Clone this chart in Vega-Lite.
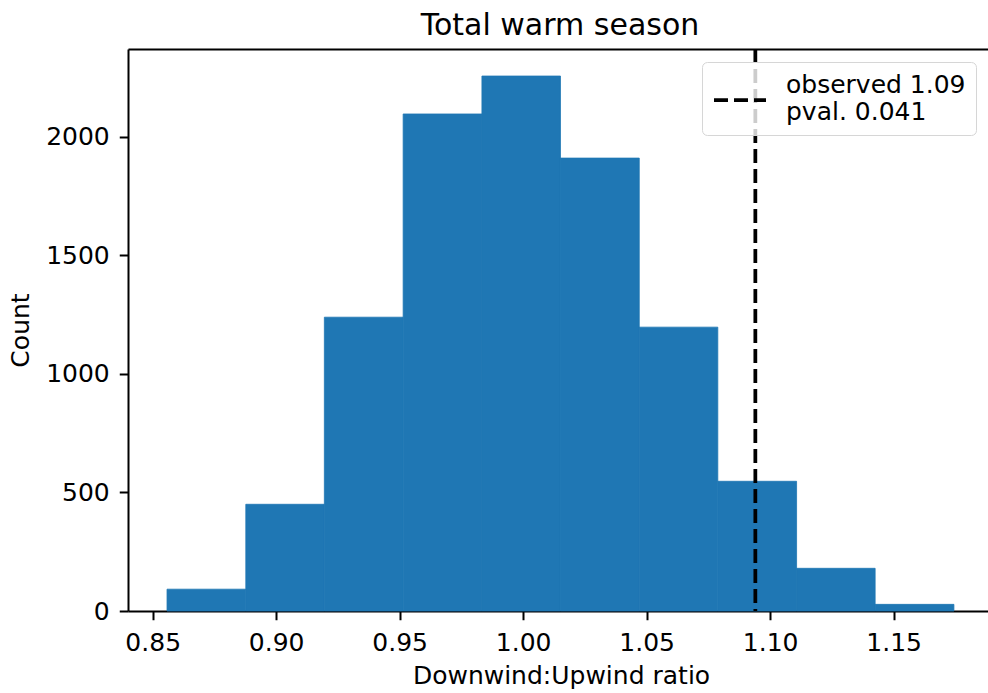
{
  "$schema": "https://vega.github.io/schema/vega-lite/v6.json",
  "autosize": "none",
  "width": 860,
  "height": 562,
  "padding": {"left": 128, "top": 49, "right": 0, "bottom": 82},
  "background": "white",
  "title": {"text": "Total warm season", "fontSize": 30, "font": "DejaVu Sans", "fontWeight": "normal", "color": "black", "baseline": "alphabetic", "offset": -18, "dx": 2},
  "config": {
    "view": {"stroke": null},
    "font": "DejaVu Sans",
    "axis": {
      "grid": false,
      "domainColor": "black", "domainWidth": 2,
      "tickColor": "black", "tickWidth": 2, "tickSize": 8.75,
      "labelColor": "black", "labelFont": "DejaVu Sans", "labelFontSize": 25,
      "titleColor": "black", "titleFont": "DejaVu Sans", "titleFontSize": 25, "titleFontWeight": "normal"
    },
    "legend": {
      "orient": "none", "legendX": 574, "legendY": 13,
      "fillColor": "rgba(255,255,255,0.8)", "strokeColor": "#d6d6d6", "cornerRadius": 5,
      "padding": 10, "symbolType": "stroke", "symbolSize": 2704, "symbolStrokeWidth": 3.75,
      "symbolStrokeColor": "black", "labelFontSize": 25, "labelFont": "DejaVu Sans", "labelColor": "black",
      "labelOffset": 18, "labelLimit": 400
    }
  },
  "datasets": {
    "bins": [
      {"bin_start": 0.8558, "bin_end": 0.8877, "count": 92},
      {"bin_start": 0.8877, "bin_end": 0.9195, "count": 450},
      {"bin_start": 0.9195, "bin_end": 0.9514, "count": 1239},
      {"bin_start": 0.9514, "bin_end": 0.9833, "count": 2096},
      {"bin_start": 0.9833, "bin_end": 1.0151, "count": 2256},
      {"bin_start": 1.0151, "bin_end": 1.0470, "count": 1910},
      {"bin_start": 1.0470, "bin_end": 1.0788, "count": 1197},
      {"bin_start": 1.0788, "bin_end": 1.1107, "count": 547},
      {"bin_start": 1.1107, "bin_end": 1.1425, "count": 180},
      {"bin_start": 1.1425, "bin_end": 1.1744, "count": 28}
    ],
    "observed": [
      {"ratio": 1.094, "label": "observed 1.09"}
    ]
  },
  "layer": [
    {
      "data": {"name": "bins"},
      "mark": {"type": "bar", "color": "#1f77b4", "stroke": "#1f77b4", "strokeWidth": 0.8},
      "encoding": {
        "x": {
          "field": "bin_start", "type": "quantitative",
          "scale": {"domain": [0.84, 1.1882], "nice": false, "zero": false},
          "axis": {"title": "Downwind:Upwind ratio", "values": [0.85, 0.9, 0.95, 1.0, 1.05, 1.1, 1.15], "format": ".2f", "labelPadding": 11, "titlePadding": 8, "titleX": 433, "labelFlush": false}
        },
        "x2": {"field": "bin_end"},
        "y": {
          "field": "count", "type": "quantitative",
          "scale": {"domain": [0, 2370], "nice": false},
          "axis": {"title": "Count", "values": [0, 500, 1000, 1500, 2000], "format": "d", "labelPadding": 10, "titlePadding": 12}
        },
        "y2": {"datum": 0}
      }
    },
    {
      "data": {"name": "observed"},
      "mark": {"type": "rule", "color": "black", "strokeWidth": 3.75},
      "encoding": {
        "x": {
          "field": "ratio", "type": "quantitative",
          "axis": {"orient": "top", "title": null, "labels": false, "ticks": false, "domain": true}
        },
        "strokeDash": {
          "field": "label", "type": "nominal",
          "scale": {"domain": ["observed 1.09"], "range": [[14, 6]]},
          "legend": {
            "title": null,
            "labelExpr": "['observed 1.09', 'pval. 0.041']",
            "labelBaseline": "top",
            "encode": {"labels": {"update": {"dy": {"value": -27}}}}
          }
        }
      }
    }
  ],
  "resolve": {"axis": {"x": "independent"}}
}
